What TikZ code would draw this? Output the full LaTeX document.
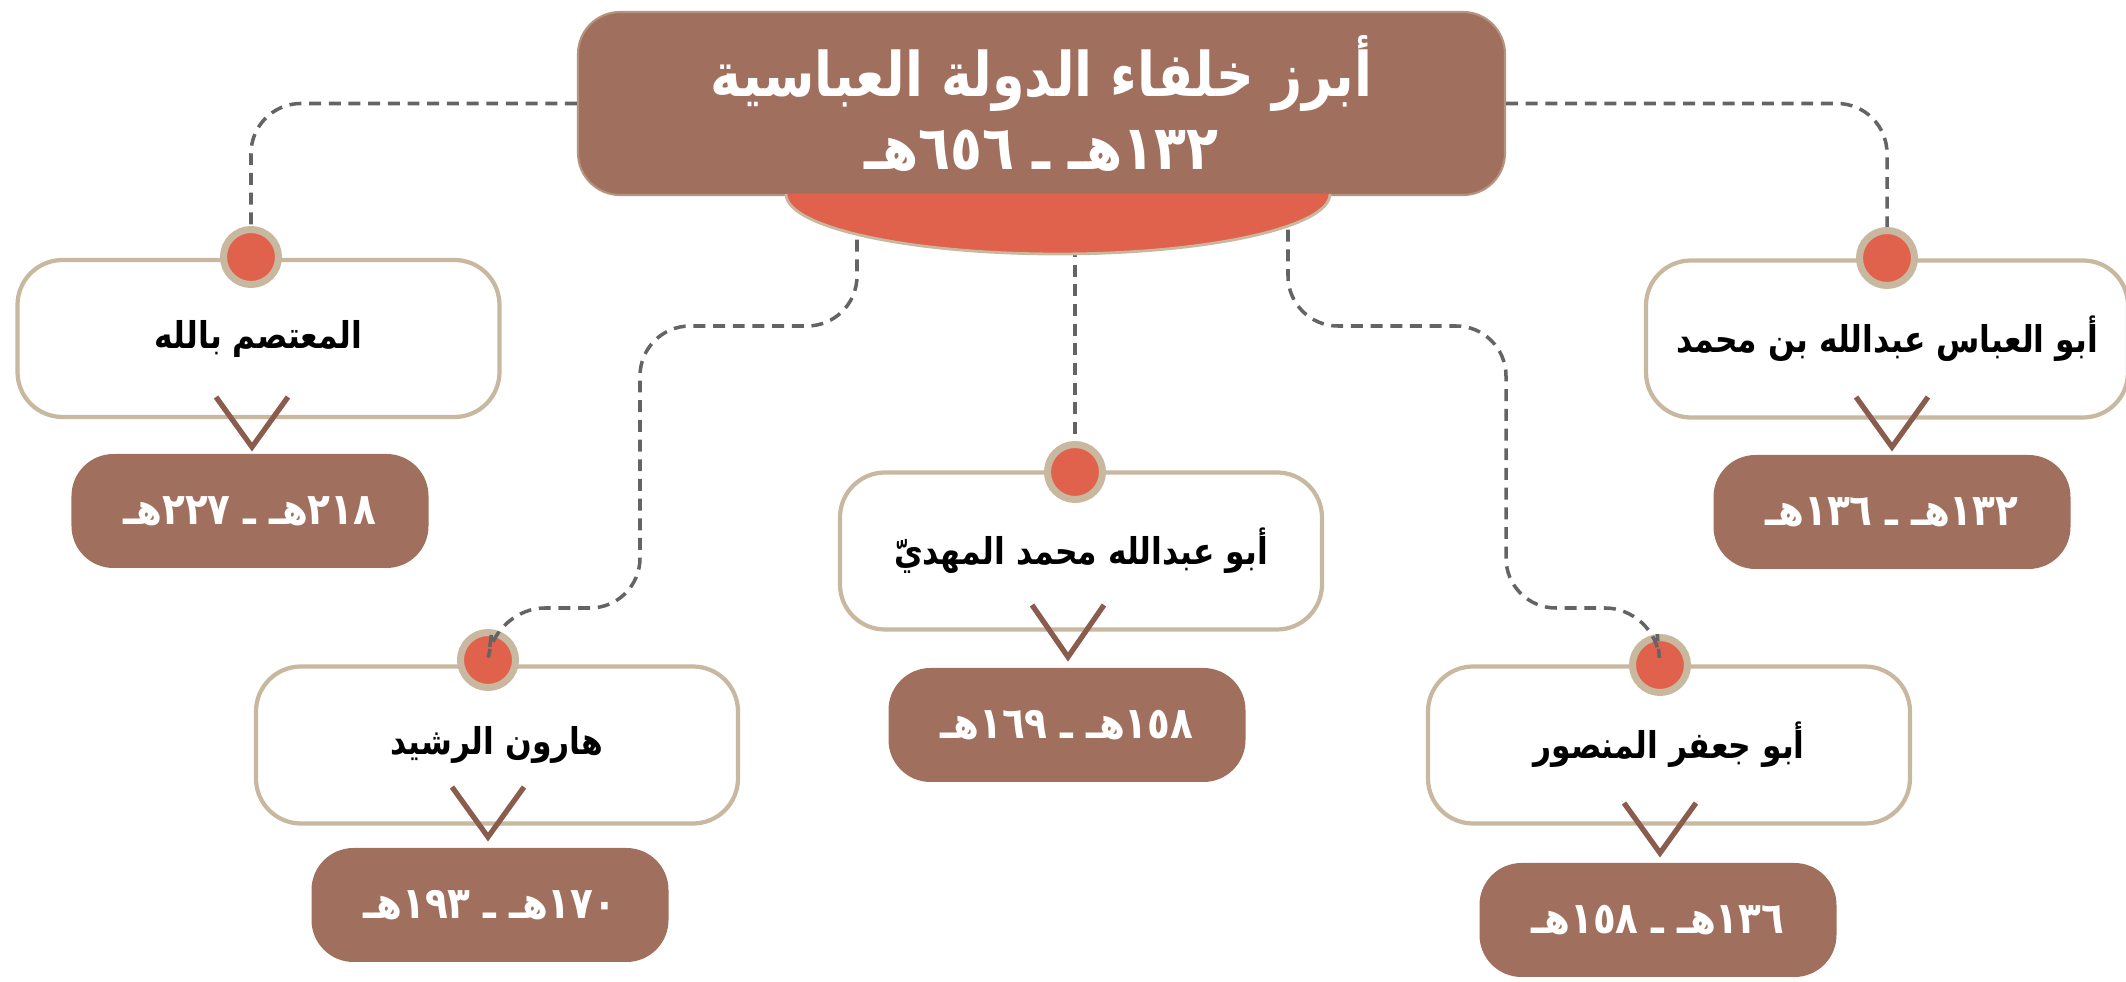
\documentclass[tikz,border=0pt]{standalone}
\usepackage{fontspec}
\usepackage{tikz}
\newfontfamily\arabicfont[Script=Arabic, FakeStretch=0.85]{DejaVu Sans}
\TeXXeTstate=1
\newcommand{\artext}[1]{\beginR #1\endR}

\definecolor{panelbrown}{RGB}{161,111,93}
\definecolor{dotred}{RGB}{224,98,76}
\definecolor{rimtan}{RGB}{201,184,160}
\definecolor{markbrown}{RGB}{138,92,78}
\definecolor{linkgray}{RGB}{100,100,100}

\begin{document}
\begin{tikzpicture}[
  titlebox/.style={fill=panelbrown, draw=rimtan!50!panelbrown, line width=0.6pt, rounded corners=0.42cm, minimum width=9.27cm, minimum height=1.83cm, text=white, align=center, font=\arabicfont\bfseries\fontsize{17.5}{21}\selectfont},
  namebox/.style={fill=white, draw=rimtan, line width=1.2pt, rounded corners=0.45cm, minimum width=4.82cm, minimum height=1.57cm, font=\arabicfont\bfseries\fontsize{10.5}{13}\selectfont},
  datebox/.style={fill=panelbrown, rounded corners=0.42cm, minimum width=3.57cm, minimum height=1.14cm, text=white, font=\arabicfont\bfseries\fontsize{12.5}{14}\selectfont},
  pindot/.style={circle, fill=dotred, draw=rimtan, line width=2pt, minimum size=0.55cm, inner sep=0pt},
  linkline/.style={draw=linkgray, line width=1pt, dash pattern=on 3.4pt off 2.2pt, rounded corners=0.5cm},
  vmark/.style={draw=markbrown, line width=1.5pt}]
\useasboundingbox (0,0) rectangle (21.26,-9.82);

% title
\node [titlebox] (title) at (10.415,-1.035) {\artext{أبرز خلفاء الدولة العباسية}\\ \artext{١٣٢هـ ـ ٦٥٦هـ}};

% caliphs
\node [namebox] (abbas) at (18.87,-3.39) {\artext{أبو العباس عبدالله بن محمد}};
\node [namebox] (mutasim) at (2.585,-3.385) {\artext{المعتصم بالله}};
\node [namebox] (mahdi) at (10.81,-5.51) {\artext{أبو عبدالله محمد المهديّ}};
\node [namebox] (harun) at (4.97,-7.45) {\artext{هارون الرشيد}};
\node [namebox] (mansur) at (16.69,-7.45) {\artext{أبو جعفر المنصور}};

% reign dates
\node [datebox] (abbasdate) at (18.92,-5.12) {\artext{١٣٢هـ ـ ١٣٦هـ}};
\node [datebox] (mutasimdate) at (2.50,-5.11) {\artext{٢١٨هـ ـ ٢٢٧هـ}};
\node [datebox] (mahdidate) at (10.67,-7.25) {\artext{١٥٨هـ ـ ١٦٩هـ}};
\node [datebox] (harundate) at (4.90,-9.05) {\artext{١٧٠هـ ـ ١٩٣هـ}};
\node [datebox] (mansurdate) at (16.58,-9.20) {\artext{١٣٦هـ ـ ١٥٨هـ}};

% chevrons
\draw [vmark] (18.56,-3.97) -- (18.92,-4.47) -- (19.28,-3.97);
\draw [vmark] (2.16,-3.97) -- (2.52,-4.47) -- (2.88,-3.97);
\draw [vmark] (10.32,-6.05) -- (10.68,-6.57) -- (11.04,-6.05);
\draw [vmark] (4.52,-7.87) -- (4.88,-8.37) -- (5.24,-7.87);
\draw [vmark] (16.24,-8.03) -- (16.60,-8.53) -- (16.96,-8.03);

% dots
\node [pindot] (abbasdot) at (18.87,-2.58) {};
\node [pindot] (mutasimdot) at (2.51,-2.57) {};
\node [pindot] (mahdidot) at (10.75,-4.72) {};
\node [pindot] (harundot) at (4.88,-6.60) {};
\node [pindot] (mansurdot) at (16.60,-6.65) {};

% connectors
\coordinate (bowlleft) at (8.57,-2.20);
\coordinate (bowlmid) at (10.75,-2.45);
\coordinate (bowlright) at (12.88,-2.10);
\draw [linkline] (title.west) -- (2.51,-1.035) -- (mutasimdot);
\draw [linkline] (title.east) -- (18.87,-1.035) -- (abbasdot);
\draw [linkline] (bowlmid) -- (mahdidot);
\draw [linkline] (bowlleft) -- (8.57,-3.26) -- (6.40,-3.26) -- (6.40,-6.08) -- (4.95,-6.08) -- (harundot);
\draw [linkline] (bowlright) -- (12.88,-3.26) -- (15.06,-3.26) -- (15.06,-6.08) -- (16.55,-6.08) -- (mansurdot);

% bowl under the title
\filldraw [fill=dotred, draw=rimtan, line width=0.8pt] (7.86,-1.94) arc [start angle=180, end angle=360, x radius=2.72, y radius=0.60];
\end{tikzpicture}
\end{document}
